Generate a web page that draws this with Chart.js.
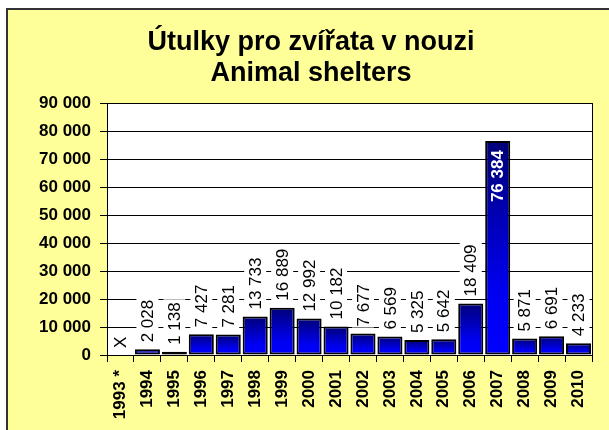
<!DOCTYPE html>
<html><head><meta charset="utf-8">
<script src="https://cdn.jsdelivr.net/npm/chart.js@4/dist/chart.umd.min.js"></script>
<style>html,body{margin:0;padding:0;background:#fff}canvas{display:block}</style>
</head><body>
<canvas id="c" width="609" height="430"></canvas>
<script>
const categories = ['1993 *','1994','1995','1996','1997','1998','1999','2000','2001','2002','2003','2004','2005','2006','2007','2008','2009','2010'];
const values = [null,2028,1138,7427,7281,13733,16889,12992,10182,7677,6569,5325,5642,18409,76384,5871,6691,4233];
const valueLabels = ['X','2 028','1 138','7 427','7 281','13 733','16 889','12 992','10 182','7 677','6 569','5 325','5 642','18 409','76 384','5 871','6 691','4 233'];
const yTickLabels = ['0','10 000','20 000','30 000','40 000','50 000','60 000','70 000','80 000','90 000'];
const titleLines = ['Útulky pro zvířata v nouzi','Animal shelters'];

const FONT = '"Liberation Sans", Arial, sans-serif';

const framePlugin = {
  id: 'frame',
  beforeDraw(chart) {
    const ctx = chart.ctx, ca = chart.chartArea;
    ctx.save();
    ctx.fillStyle = '#ffffff';
    ctx.fillRect(0, 0, chart.width, chart.height);
    ctx.fillStyle = '#FFFF99';
    ctx.fillRect(6, 8, chart.width - 6, chart.height - 8);
    ctx.strokeStyle = '#333333';
    ctx.lineWidth = 2;
    ctx.beginPath();
    ctx.moveTo(7, chart.height);
    ctx.lineTo(7, 9);
    ctx.lineTo(chart.width, 9);
    ctx.stroke();
    ctx.fillStyle = '#ffffff';
    ctx.fillRect(ca.left, ca.top, ca.right - ca.left, ca.bottom - ca.top);
    ctx.fillStyle = '#000';
    ctx.font = 'bold 27px ' + FONT;
    ctx.textAlign = 'center';
    ctx.textBaseline = 'middle';
    ctx.fillText(titleLines[0], 311, 43);
    ctx.fillText(titleLines[1], 311, 74);
    ctx.restore();
  },
  afterDraw(chart) {
    const ctx = chart.ctx, ca = chart.chartArea;
    ctx.save();
    ctx.strokeStyle = '#000';
    ctx.lineWidth = 1;
    ctx.beginPath();
    ctx.moveTo(Math.round(ca.right) + 0.5, ca.top);
    ctx.lineTo(Math.round(ca.right) + 0.5, ca.bottom);
    ctx.stroke();
    ctx.restore();
  }
};

const labelPlugin = {
  id: 'valueLabels',
  afterDatasetsDraw(chart) {
    const ctx = chart.ctx;
    const xs = chart.scales.x, ys = chart.scales.y;
    ctx.save();
    values.forEach((v, i) => {
      const x = xs.getPixelForValue(i);
      const yTop = ys.getPixelForValue(v == null ? 0 : v);
      const text = valueLabels[i];
      if (v != null && v > 60000) {
        ctx.save();
        ctx.translate(x, yTop + 9);
        ctx.rotate(-Math.PI / 2);
        ctx.font = 'bold 17px ' + FONT;
        ctx.fillStyle = '#ffffff';
        ctx.textAlign = 'right';
        ctx.textBaseline = 'middle';
        ctx.fillText(text, 0, 1);
        ctx.restore();
      } else {
        ctx.save();
        ctx.translate(x, yTop - 7);
        ctx.rotate(-Math.PI / 2);
        ctx.font = '17px ' + FONT;
        const w = ctx.measureText(text).width;
        ctx.fillStyle = '#ffffff';
        ctx.fillRect(-1, -11, w + 4, 22);
        ctx.fillStyle = '#000';
        ctx.textAlign = 'left';
        ctx.textBaseline = 'middle';
        ctx.fillText(text, 0, 1);
        ctx.restore();
      }
    });
    ctx.restore();
  }
};

function barGradient(c) {
  const chart = c.chart;
  if (!chart.chartArea) return '#0000cc';
  const ys = chart.scales.y;
  const v = c.raw == null ? 0 : c.raw;
  const top = ys.getPixelForValue(v);
  const bot = ys.getPixelForValue(0);
  if (bot - top < 1) return '#0000ff';
  const g = chart.ctx.createLinearGradient(0, top, 0, bot);
  g.addColorStop(0, '#000078');
  g.addColorStop(0.7, '#0000f0');
  g.addColorStop(1, '#0000ff');
  return g;
}

new Chart(document.getElementById('c'), {
  type: 'bar',
  data: {
    labels: categories,
    datasets: [{
      data: values,
      backgroundColor: barGradient,
      borderColor: '#000000',
      borderWidth: 2,
      borderSkipped: false,
      barPercentage: 0.93,
      categoryPercentage: 1.0
    }]
  },
  options: {
    responsive: false,
    devicePixelRatio: 1,
    animation: false,
    layout: { padding: { top: 103, right: 17, left: 0, bottom: 0 } },
    plugins: { legend: { display: false }, title: { display: false }, tooltip: { enabled: false } },
    scales: {
      x: {
        afterFit(s) { s.height = 75; },
        grid: { offset: true, drawOnChartArea: false, drawTicks: true, tickLength: 7, color: '#000', tickColor: '#000' },
        border: { color: '#000', width: 1 },
        ticks: { autoSkip: false, minRotation: 90, maxRotation: 90, padding: 8, color: '#000', font: { family: FONT, size: 17, weight: 'bold' } }
      },
      y: {
        min: 0, max: 90000,
        afterFit(s) { s.width = 107; },
        grid: { color: '#000', tickColor: '#000', tickLength: 7, lineWidth: 1 },
        border: { color: '#000', width: 1 },
        ticks: { stepSize: 10000, padding: 9, color: '#000', font: { family: FONT, size: 17, weight: 'bold' },
          callback: (val, idx) => yTickLabels[idx] }
      }
    }
  },
  plugins: [framePlugin, labelPlugin]
});
</script>
</body></html>
